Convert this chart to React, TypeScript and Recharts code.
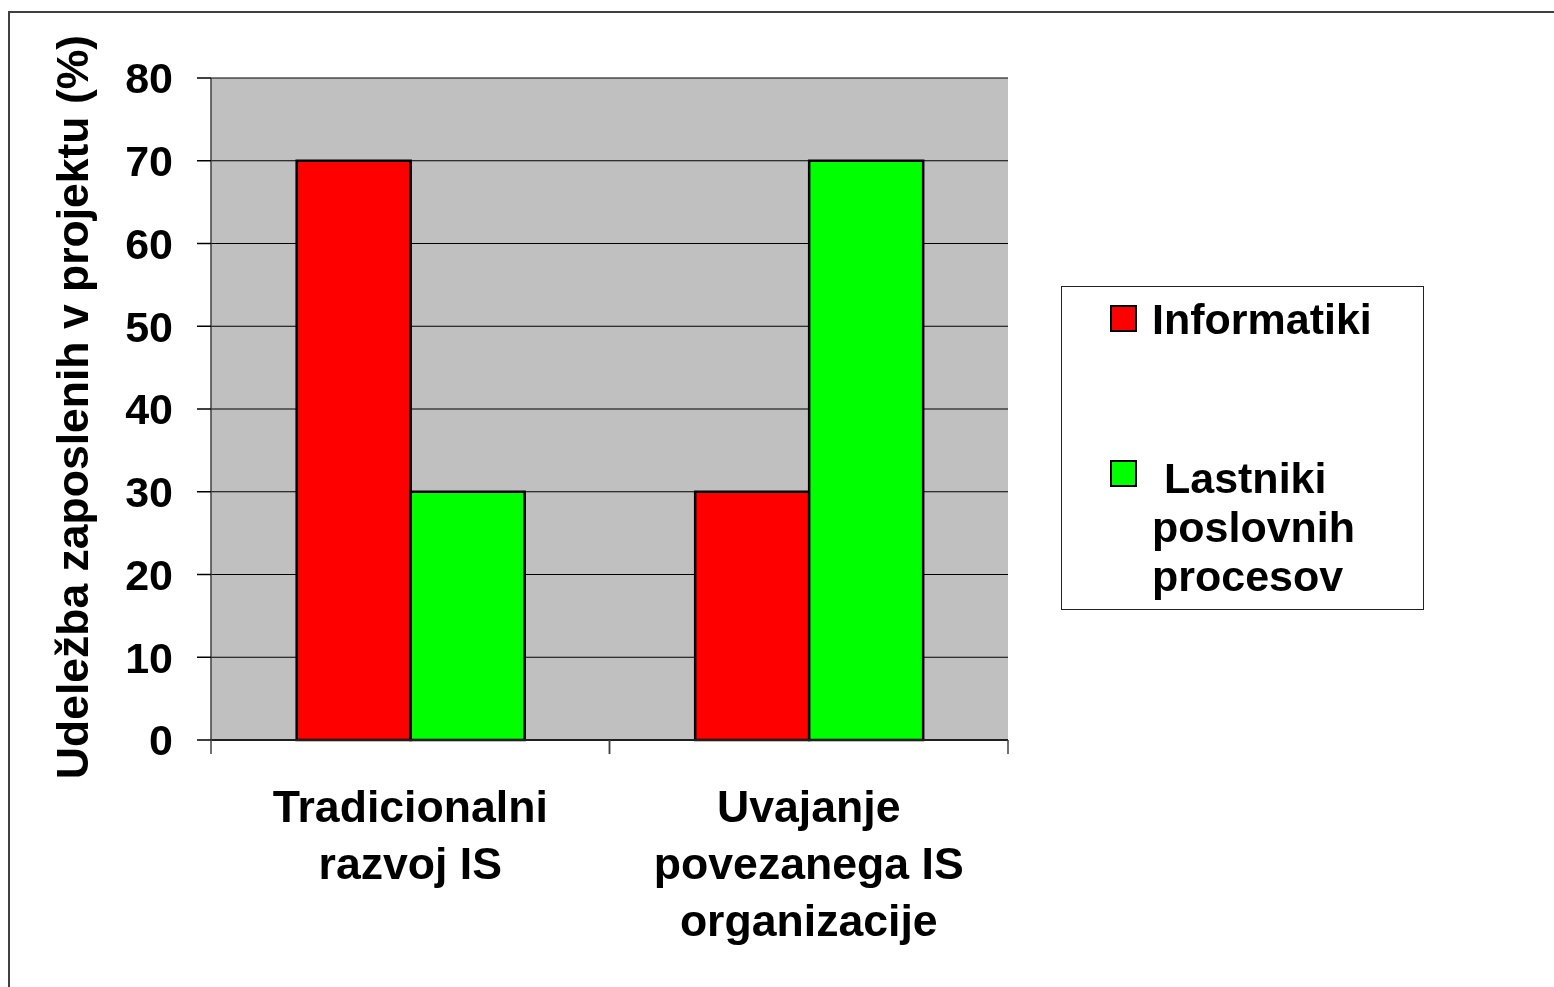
import {
  BarChart,
  Bar,
  XAxis,
  YAxis,
  CartesianGrid,
  Legend,
  ReferenceArea,
} from "recharts";

const categories = [
  "Tradicionalni\nrazvoj IS",
  "Uvajanje\npovezanega IS\norganizacije",
];
const informatiki = [70, 30];
const lastniki = [30, 70];
const seriesNames = ["Informatiki", "Lastniki poslovnih procesov"];
const seriesColors = ["#ff0000", "#00ff00"];
const yTicks = [0, 10, 20, 30, 40, 50, 60, 70, 80];
const yTitle = "Udeležba zaposlenih v projektu (%)";

const FONT = "'Liberation Sans', Arial, Helvetica, sans-serif";

const data = categories.map((c, i) => ({
  category: c,
  informatiki: informatiki[i],
  lastniki: lastniki[i],
}));

// category label + Excel-style tick marks on the category boundaries
function CategoryTick(props: any) {
  const { x, y, payload, width, visibleTicksCount } = props;
  const lines = String(payload.value).split("\n");
  const half = Number(width) / Number(visibleTicksCount || 1) / 2;
  return (
    <g>
      {Number.isFinite(half) && (
        <>
          <line x1={x - half} x2={x - half} y1={y} y2={y + 14} stroke="#404040" strokeWidth={1.5} />
          <line x1={x + half} x2={x + half} y1={y} y2={y + 14} stroke="#404040" strokeWidth={1.5} />
        </>
      )}
      <text
        x={x}
        y={y}
        textAnchor="middle"
        fontFamily={FONT}
        fontWeight="bold"
        fontSize={44.6}
        fill="#000"
      >
        {lines.map((line, i) => (
          <tspan key={i} x={x} dy={i === 0 ? 82 : 57}>
            {line}
          </tspan>
        ))}
      </text>
    </g>
  );
}

function YTitle(props: any) {
  const vb = props.viewBox || {};
  const cx = 78;
  const cy = vb.y + vb.height / 2 - 2;
  return (
    <text
      x={cx}
      y={cy}
      transform={`rotate(-90 ${cx} ${cy})`}
      textAnchor="middle"
      fontFamily={FONT}
      fontWeight="bold"
      fontSize={44.5}
      fill="#000"
    >
      {yTitle}
    </text>
  );
}

function LegendBox(props: any) {
  const items = props.payload || [];
  return (
    <div
      style={{
        width: 363,
        height: 324,
        boxSizing: "border-box",
        border: "1px solid #222",
        background: "#fff",
        position: "relative",
        fontFamily: FONT,
        fontWeight: "bold",
        fontSize: 43,
        color: "#000",
      }}
    >
      {items.map((entry: any, i: number) => (
        <div
          key={i}
          style={{
            position: "absolute",
            left: 48,
            top: i === 0 ? 8 : 167,
            display: "flex",
            alignItems: "flex-start",
          }}
        >
          <div
            style={{
              width: 27,
              height: 27,
              boxSizing: "border-box",
              border: "2px solid #000",
              background: entry.color,
              marginTop: i === 0 ? 10 : 6,
              flex: "none",
            }}
          />
          <div
            style={{
              marginLeft: 15,
              width: 268,
              lineHeight: "49px",
              whiteSpace: "pre-wrap",
            }}
          >
            {i === 0 ? entry.value : " " + entry.value}
          </div>
        </div>
      ))}
    </div>
  );
}

export default function App() {
  return (
    <div style={{ position: "relative", height: 971 }}>
      {/* outer frame of the original slide, cut off at right and bottom */}
      <div
        style={{
          position: "fixed",
          left: 8,
          top: 11,
          width: 1600,
          height: 1100,
          boxSizing: "border-box",
          borderTop: "2px solid #404040",
          borderLeft: "2px solid #404040",
          pointerEvents: "none",
        }}
      />
      <div style={{ position: "absolute", left: 2, top: 5 }}>
        <BarChart
          width={1544}
          height={964}
          data={data}
          margin={{ top: 65, right: 546, bottom: 7, left: 20 }}
          barCategoryGap="21.5%"
          barGap={0}
        >
          <CartesianGrid
            vertical={false}
            stroke="#000"
            strokeWidth={1.2}
            fill="#c0c0c0"
            fillOpacity={1}
          />
          <ReferenceArea
            xAxisId="cat"
            fill="none"
            stroke="#808080"
            strokeWidth={3}
          />
          <XAxis
            xAxisId="cat"
            dataKey="category"
            height={230}
            axisLine={{ stroke: "#202020", strokeWidth: 2 }}
            tickLine={false}
            tickSize={0}
            tickMargin={0}
            tick={<CategoryTick />}
            interval={0}
          />
          <YAxis
            width={181}
            domain={[0, 80]}
            ticks={yTicks}
            interval={0}
            axisLine={{ stroke: "#404040", strokeWidth: 1.5 }}
            tickLine={{ stroke: "#000", strokeWidth: 1.5 }}
            tickSize={14}
            tickMargin={24}
            tick={{
              fontFamily: FONT,
              fontWeight: "bold",
              fontSize: 43,
              fill: "#000",
            }}
            label={{ content: <YTitle /> }}
          />
          <Legend
            layout="vertical"
            align="center"
            verticalAlign="middle"
            content={<LegendBox />}
            wrapperStyle={{ left: 1051, top: 273, width: 363, height: 324 }}
          />
          <Bar
            xAxisId="cat"
            dataKey="informatiki"
            name={seriesNames[0]}
            fill={seriesColors[0]}
            stroke="#000"
            strokeWidth={2.5}
            isAnimationActive={false}
          />
          <Bar
            xAxisId="cat"
            dataKey="lastniki"
            name={seriesNames[1]}
            fill={seriesColors[1]}
            stroke="#000"
            strokeWidth={2.5}
            isAnimationActive={false}
          />
        </BarChart>
      </div>
    </div>
  );
}
